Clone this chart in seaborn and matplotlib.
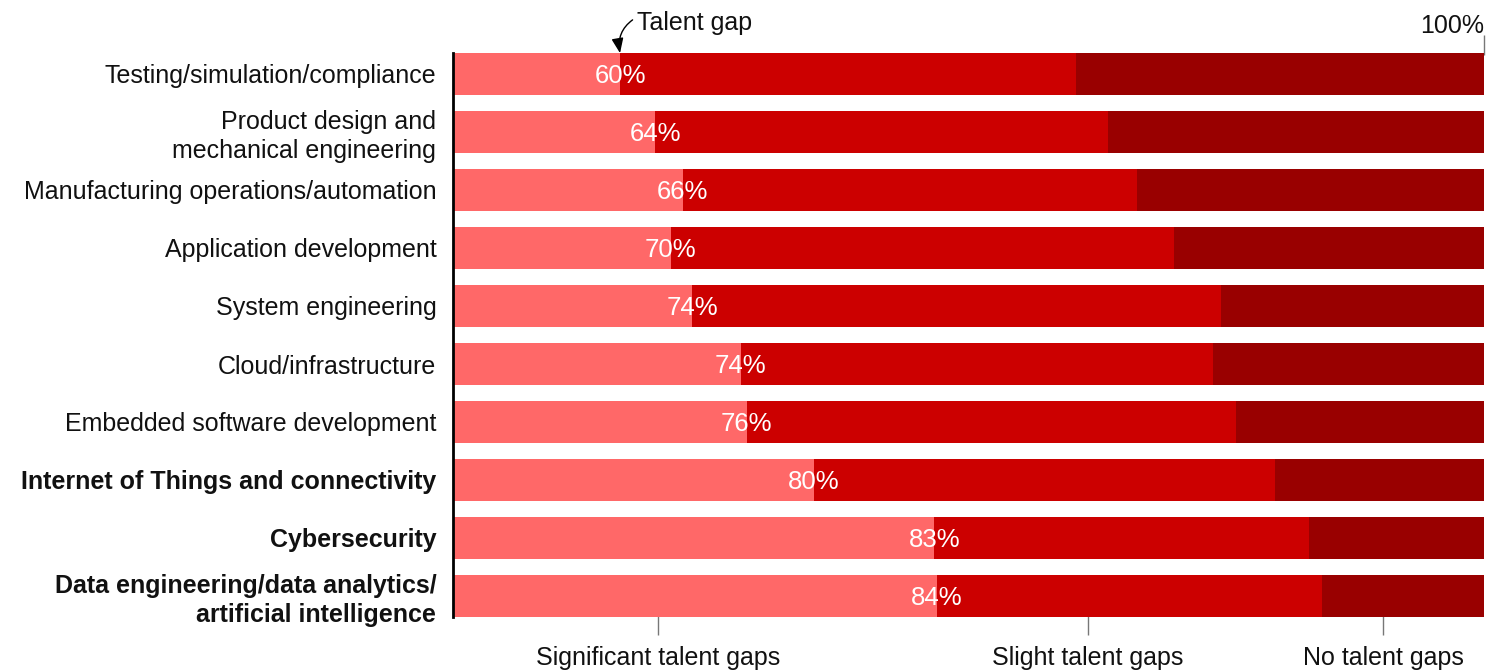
import matplotlib
matplotlib.use("Agg")
import matplotlib.pyplot as plt
import numpy as np
import pandas as pd
import seaborn as sns

# DATA
categories = [
    "Testing/simulation/compliance",
    "Product design and\nmechanical engineering",
    "Manufacturing operations/automation",
    "Application development",
    "System engineering",
    "Cloud/infrastructure",
    "Embedded software development",
    "Internet of Things and connectivity",
    "Cybersecurity",
    "Data engineering/data analytics/\nartificial intelligence",
]
bold_rows = [7, 8, 9]
significant = [16.2, 19.6, 22.3, 21.1, 23.2, 27.9, 28.5, 35.0, 46.7, 46.9]
talent_gap = [60.4, 63.5, 66.3, 69.9, 74.5, 73.7, 75.9, 79.7, 83.0, 84.3]
gap_labels = ["60%", "64%", "66%", "70%", "74%", "74%", "76%", "80%", "83%", "84%"]
total = [100] * len(categories)
scale_labels = ["Significant talent gaps", "Slight talent gaps", "No talent gaps"]
scale_pos = [19.9, 61.6, 90.2]

df = pd.DataFrame({"category": categories, "significant": significant,
                   "gap": talent_gap, "total": total})

#COLOURS
light, mid, dark = "#FF6868", "#CC0000", "#990000"
txt = "#111111"
fs = 18

sns.set_style("white")
plt.rcParams["font.family"] = ["Liberation Sans", "DejaVu Sans"]

fig = plt.figure(figsize=(14.94, 6.72), dpi=100)
ax = fig.add_axes([453 / 1494, 1 - 625 / 672, 1031 / 1494, 580 / 672])

#STACKED BARS BY OVERLAYING
bw = 0.72
for col, c in [("total", dark), ("gap", mid), ("significant", light)]:
    sns.barplot(data=df, x=col, y="category", color=c, saturation=1,
                width=bw, ax=ax, linewidth=0)

ax.set_xlim(0, 100)
ax.set_ylim(len(categories) - 0.5, -0.5)
ax.set_xlabel("")
ax.set_ylabel("")

#PERCENT LABELS AT THE END OF THE LIGHT SEGMENT
for i, (x, lab) in enumerate(zip(significant, gap_labels)):
    ax.text(x, i + 0.03, lab, color="white", fontsize=18.5, ha="center", va="center")

#CATEGORY LABELS
ax.tick_params(axis="y", length=0, pad=12, labelsize=fs)
for i, t in enumerate(ax.get_yticklabels()):
    t.set_color(txt)
    t.set_linespacing(1.25)
    if i in bold_rows:
        t.set_fontweight("bold")

#BOTTOM SCALE LABELS
ax.set_xticks(scale_pos)
ax.set_xticklabels(scale_labels, fontsize=fs, color=txt)
ax.tick_params(axis="x", length=14, width=1, color="#777777", pad=8,
               bottom=True, direction="inout")

#SPINES
for s in ["top", "right", "bottom"]:
    ax.spines[s].set_visible(False)
ax.spines["left"].set_color("black")
ax.spines["left"].set_linewidth(2)
ax.spines["left"].set_bounds(-bw / 2, len(categories) - 1 + bw / 2)

#100% MARK ON TOP
top = ax.secondary_xaxis("top")
top.set_xticks([100])
top.set_xticklabels(["100%"], fontsize=fs, ha="right", color=txt)
top.tick_params(length=14, width=1, color="#777777", direction="inout", pad=-2)
top.spines["top"].set_visible(False)

#TALENT GAP ANNOTATION
ax.annotate("Talent gap", xy=(significant[0], -bw / 2), xycoords="data",
            xytext=(637, 649), textcoords="figure pixels",
            fontsize=fs, ha="left", va="center", color=txt,
            arrowprops=dict(arrowstyle="-|>,head_length=0.5,head_width=0.2",
                            color="black", lw=1,
                            connectionstyle="arc3,rad=0.35",
                            relpos=(0, 0.75), shrinkA=1, shrinkB=0))

fig.savefig("out.png", dpi=100)
